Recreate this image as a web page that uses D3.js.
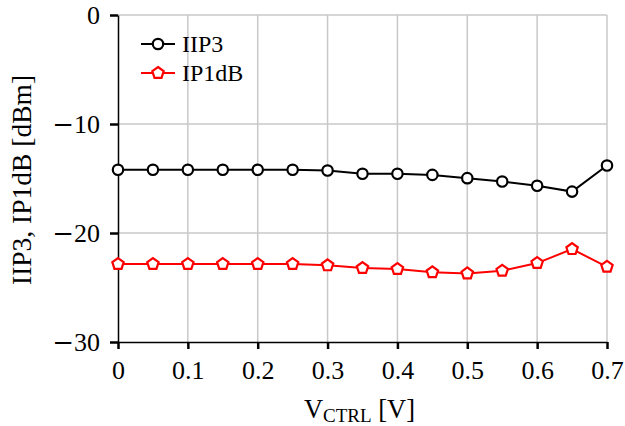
<!DOCTYPE html>
<html>
<head>
<meta charset="utf-8">
<script src="https://cdn.jsdelivr.net/npm/d3@7"></script>
<style>
  body { margin: 0; background: #fff; }
  svg { display: block; font-family: "Liberation Serif", "Times New Roman", serif; }
</style>
</head>
<body>
<svg id="chart" width="625" height="426"></svg>
<script>
// data
const vctrl = [0, 0.05, 0.1, 0.15, 0.2, 0.25, 0.3, 0.35, 0.4, 0.45, 0.5, 0.55, 0.6, 0.65, 0.7];
const iip3 = [-14.2, -14.2, -14.2, -14.2, -14.2, -14.2, -14.27, -14.57, -14.57, -14.67, -14.97, -15.28, -15.67, -16.2, -13.81];
const ip1db = [-22.85, -22.85, -22.85, -22.85, -22.85, -22.85, -22.97, -23.22, -23.31, -23.61, -23.71, -23.47, -22.76, -21.48, -23.1];
const xTicks = [0, 0.1, 0.2, 0.3, 0.4, 0.5, 0.6, 0.7];
const yTicks = [0, -10, -20, -30];

const margin = { top: 15, right: 18, bottom: 84, left: 118 };
const width = 625 - margin.left - margin.right;
const height = 426 - margin.top - margin.bottom;

const x = d3.scaleLinear().domain([0, 0.7]).range([0, width]);
const y = d3.scaleLinear().domain([-30, 0]).range([height, 0]);

const svg = d3.select('#chart');
const g = svg.append('g').attr('transform', 'translate(' + margin.left + ',' + margin.top + ')');

// grid lines
g.append('g').selectAll('line').data(xTicks.slice(1)).enter().append('line')
  .attr('x1', d => x(d)).attr('x2', d => x(d)).attr('y1', 0).attr('y2', height)
  .attr('stroke', '#c8c8c8').attr('stroke-width', 1.5);
g.append('g').selectAll('line').data(yTicks.slice(0, 3)).enter().append('line')
  .attr('x1', 0).attr('x2', width).attr('y1', d => y(d)).attr('y2', d => y(d))
  .attr('stroke', '#c8c8c8').attr('stroke-width', 1.5);

// axes
const xAxis = g.append('g').attr('transform', 'translate(0,' + height + ')')
  .call(d3.axisBottom(x).tickValues(xTicks).tickSize(7).tickSizeOuter(0).tickPadding(12)
    .tickFormat(d => d === 0 ? '0' : d3.format('.1f')(d)));
const yAxis = g.append('g')
  .call(d3.axisLeft(y).tickValues(yTicks).tickSize(8).tickSizeOuter(0).tickPadding(10)
    .tickFormat(''));

[xAxis, yAxis].forEach(a => {
  a.select('.domain').attr('stroke', '#000').attr('stroke-width', 1.5);
  a.selectAll('.tick line').attr('stroke', '#000').attr('stroke-width', 2.5);
  a.selectAll('.tick text').attr('fill', '#000').style('font-size', '26px')
    .style('font-family', '"Liberation Serif", serif');
});
xAxis.selectAll('.tick text').attr('dy', '0.71em');

// y tick labels: wider minus sign, like the reference
yAxis.selectAll('.tick text').attr('dy', '0.34em').each(function(d) {
  const t = d3.select(this);
  if (d < 0) {
    t.append('tspan').style('font-family', '"DejaVu Serif", serif').text('\u2212');
    t.append('tspan').text(Math.abs(d));
  } else {
    t.text(d);
  }
});

// axis titles
const xt = svg.append('text').attr('x', margin.left + width / 2 - 3).attr('y', 418)
  .attr('text-anchor', 'middle').style('font-size', '26.5px').attr('fill', '#000');
xt.append('tspan').text('V');
xt.append('tspan').attr('dy', 4).style('font-size', '19px').text('CTRL');
xt.append('tspan').attr('dy', -4).text(' [V]');

svg.append('text').attr('transform', 'translate(31,180) rotate(-90)')
  .attr('text-anchor', 'middle').style('font-size', '27.5px').attr('fill', '#000')
  .text('IIP3, IP1dB [dBm]');

// series
const series = [
  { name: 'IIP3', values: iip3, color: '#000', marker: 'circle' },
  { name: 'IP1dB', values: ip1db, color: '#ff0000', marker: 'pentagon' }
];

const line = d3.line().x(d => x(d[0])).y(d => y(d[1]));

function pentagonPath(r) {
  const pts = d3.range(5).map(i => {
    const a = -Math.PI / 2 + i * 2 * Math.PI / 5;
    return [r * Math.cos(a), r * Math.sin(a)];
  });
  return 'M' + pts.map(p => p.join(',')).join('L') + 'Z';
}

function drawMarker(sel, s) {
  if (s.marker === 'circle') {
    sel.append('circle').attr('r', 5.2).attr('fill', '#fff')
      .attr('stroke', s.color).attr('stroke-width', 2.2);
  } else {
    sel.append('path').attr('d', pentagonPath(6)).attr('fill', '#fff')
      .attr('stroke', s.color).attr('stroke-width', 2.2);
  }
}

series.forEach(s => {
  const pts = vctrl.map((v, i) => [v, s.values[i]]);
  g.append('path').datum(pts).attr('d', line)
    .attr('fill', 'none').attr('stroke', s.color).attr('stroke-width', 2);
  g.append('g').selectAll('g').data(pts).enter().append('g')
    .attr('transform', d => 'translate(' + x(d[0]) + ',' + y(d[1]) + ')')
    .each(function() { drawMarker(d3.select(this), s); });
});

// legend
const legend = svg.append('g').attr('transform', 'translate(141,44)');
series.forEach((s, i) => {
  const row = legend.append('g').attr('transform', 'translate(0,' + (i * 29) + ')');
  row.append('line').attr('x1', 0).attr('x2', 34).attr('y1', 0).attr('y2', 0)
    .attr('stroke', s.color).attr('stroke-width', 2);
  drawMarker(row.append('g').attr('transform', 'translate(17,0)'), s);
  row.append('text').attr('x', 41).attr('y', 0).attr('dy', '0.35em')
    .style('font-size', '24px').attr('fill', '#000').text(s.name);
});
</script>
</body>
</html>
